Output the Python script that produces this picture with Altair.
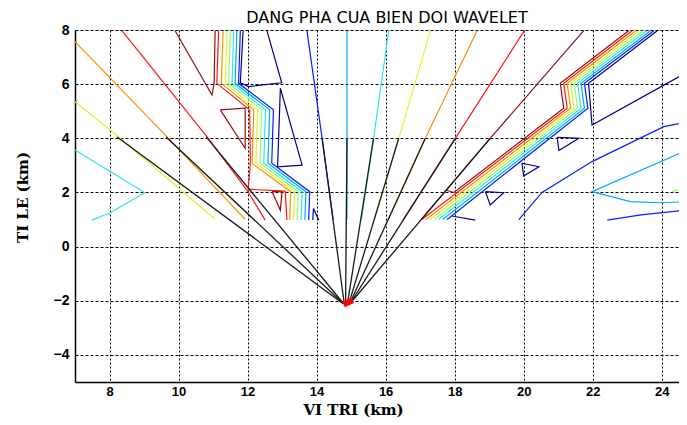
import altair as alt
import pandas as pd

# ---------------- data ----------------
x_ticks = [8, 10, 12, 14, 16, 18, 20, 22, 24]
y_ticks = [-4, -2, 0, 2, 4, 6, 8]

# contour level colours (jet-like, 0 = navy ... 8 = dark red)
level_values = [0, 1, 2, 3, 4, 5, 6, 7, 8]
level_colors = ["#000090", "#0020FF", "#00A8FF", "#30E8E0", "#90FF70",
                "#E0F030", "#FF9000", "#FF1818", "#901010"]

# contour polylines: level, x list, y list
contour_level = [
    3, 5, 6, 7, 8, 8, 8,            # left single lines
    7, 6, 5, 4, 3, 2, 1,            # left staircase band
    0, 0, 0,                        # left navy pieces
    1, 2, 3, 5, 6, 7, 8,            # middle radiating lines
    8, 7, 6, 5, 4, 3, 2, 1, 0,      # right staircase band
    0, 0, 0, 0,                     # right navy pieces
    1, 2, 4, 1,                     # right lines
]
contour_x = [
    [7.0, 9.03, 8.02, 7.49],
    [7.0, 8.26, 11.06],
    [7.0, 9.66, 11.93],
    [8.36, 10.82, 11.98, 12.51],
    [9.90, 10.97, 11.03, 11.06],
    [11.21, 11.93, 11.93, 11.21],
    [12.71, 13.0, 12.95, 12.71],
    [11.16, 11.11, 12.06, 12.08, 12.02, 13.09, 13.14],
    [11.29, 11.24, 12.18, 12.13, 13.25, 13.22],
    [11.40, 11.35, 12.29, 12.24, 13.36, 13.33],
    [11.50, 11.45, 12.41, 12.36, 13.47, 13.44],
    [11.60, 11.55, 12.52, 12.47, 13.58, 13.55],
    [11.69, 11.64, 12.64, 12.59, 13.69, 13.66],
    [11.79, 11.74, 12.75, 12.70, 13.80, 13.77],
    [11.87, 11.79, 12.03, 12.99, 12.56],
    [12.95, 12.87, 13.58, 12.95],
    [13.89, 13.91, 14.06],
    [13.72, 14.16, 14.48],
    [14.88, 14.88],
    [16.09, 15.65, 15.30],
    [17.30, 16.38, 15.67],
    [18.65, 17.15, 16.08],
    [20.02, 18.02, 16.51],
    [21.74, 19.03, 17.03],
    [17.75, 17.98, 21.16, 21.06, 23.04],
    [17.05, 21.26, 21.16, 23.14],
    [17.17, 21.36, 21.26, 23.25],
    [17.29, 21.46, 21.36, 23.35],
    [17.41, 21.56, 21.46, 23.46],
    [17.53, 21.66, 21.56, 23.56],
    [17.65, 21.76, 21.66, 23.67],
    [17.78, 21.86, 21.76, 23.77],
    [23.87, 21.88, 21.98, 24.75],
    [20.97, 21.60, 21.02, 20.97],
    [19.95, 20.44, 20.00, 19.95],
    [18.89, 19.42, 19.03, 18.89],
    [17.92, 18.60],
    [19.86, 20.53, 21.98, 24.06, 24.75],
    [24.75, 21.98, 23.09, 23.96, 24.75],
    [24.75, 24.30],
    [22.42, 23.40, 24.75],
]
contour_y = [
    [3.57, 1.99, 1.25, 0.98],
    [5.35, 4.06, 1.01],
    [7.57, 4.06, 1.01],
    [7.98, 4.06, 2.09, 0.98],
    [7.975, 5.60, 6.03, 7.975],
    [5.05, 5.11, 3.63, 5.05],
    [2.03, 2.03, 1.35, 2.03],
    [7.975, 6.03, 5.05, 3.08, 2.12, 2.05, 0.98],
    [7.975, 6.03, 5.05, 3.08, 2.03, 0.98],
    [7.975, 6.03, 5.05, 3.08, 2.03, 0.98],
    [7.975, 6.03, 5.05, 3.08, 2.03, 0.98],
    [7.975, 6.03, 5.05, 3.08, 2.03, 0.98],
    [7.975, 6.03, 5.05, 3.08, 2.03, 0.98],
    [7.975, 6.03, 5.05, 3.08, 2.03, 0.98],
    [7.975, 6.05, 5.91, 6.05, 7.975],
    [5.85, 2.95, 3.01, 5.85],
    [0.98, 1.41, 0.98],
    [7.975, 4.0, 1.0],
    [7.975, 1.0],
    [7.975, 4.0, 1.0],
    [7.975, 4.0, 1.0],
    [7.975, 4.0, 1.0],
    [7.975, 4.0, 1.0],
    [7.975, 4.0, 1.0],
    [2.08, 2.0, 5.11, 6.03, 7.975],
    [1.0, 5.11, 6.03, 7.975],
    [1.0, 5.11, 6.03, 7.975],
    [1.0, 5.11, 6.03, 7.975],
    [1.0, 5.11, 6.03, 7.975],
    [1.0, 5.11, 6.03, 7.975],
    [1.0, 5.11, 6.03, 7.975],
    [1.0, 5.11, 6.03, 7.975],
    [7.975, 6.03, 4.49, 6.45],
    [4.04, 4.0, 3.55, 4.04],
    [3.08, 2.95, 2.61, 3.08],
    [2.03, 1.99, 1.54, 2.03],
    [1.13, 0.98],
    [1.0, 2.0, 3.14, 4.43, 4.61],
    [3.57, 2.03, 1.66, 1.62, 1.66],
    [2.20, 2.03],
    [0.98, 1.17, 1.35],
]

# black rays from the source to the y = 4 km level
ray_top_x = [8.22, 9.64, 10.80, 14.16, 14.88, 15.65, 16.38, 17.15, 18.02, 19.03]
ray_top_y = [4.05, 4.05, 4.05, 4.0, 4.0, 4.0, 4.0, 4.0, 4.0, 4.0]
ray_end_x = [14.76, 14.77, 14.78, 14.80, 14.84, 14.90, 14.95, 14.99, 15.02, 15.05]
ray_end_y = [-2.10, -2.10, -2.10, -2.10, -2.08, -2.06, -2.04, -2.02, -2.00, -1.98]

# source marker
source_x = [14.78]
source_y = [-2.14]
source_x2 = [15.05]
source_y2 = [-1.98]

# ---------------- tables ----------------
rows = []
for i, (lv, xs, ys) in enumerate(zip(contour_level, contour_x, contour_y)):
    for k, (xv, yv) in enumerate(zip(xs, ys)):
        rows.append({"line": i, "level": lv, "k": k, "x": xv, "y": yv})
df_c = pd.DataFrame(rows)
df_r = pd.DataFrame({"x": ray_top_x, "y": ray_top_y, "x2": ray_end_x, "y2": ray_end_y})
df_s = pd.DataFrame({"x": source_x, "y": source_y, "x2": source_x2, "y2": source_y2})

# ---------------- chart ----------------
xscale = alt.Scale(domain=[7, 24.5], nice=False, zero=False)
yscale = alt.Scale(domain=[-5, 8], nice=False, zero=False)

xaxis = alt.Axis(values=x_ticks, title="VI TRI (km)", grid=True, gridDash=[2, 2],
                 gridColor="black", gridOpacity=1, gridWidth=1, ticks=False,
                 labelPadding=3, labelFont="Liberation Sans", labelFontSize=13,
                 labelFontWeight="bold", labelColor="black",
                 titleFont="DejaVu Serif", titleFontSize=15, titleFontWeight="bold",
                 titleColor="black", titleX=278, titleY=27, titleAlign="center",
                 titleBaseline="middle", domainColor="black", domainWidth=1.5)
yaxis = alt.Axis(values=y_ticks, title="TI LE (km)", grid=True, gridDash=[3, 2],
                 gridColor="black", gridOpacity=1, gridWidth=1, ticks=False,
                 labelPadding=6, labelFont="Liberation Sans", labelFontSize=14,
                 labelFontWeight="bold", labelColor="black",
                 titleFont="DejaVu Serif", titleFontSize=15, titleFontWeight="bold",
                 titleColor="black", titleX=-53, titleY=167, titleAlign="center",
                 titleBaseline="middle", titleAngle=270,
                 domainColor="black", domainWidth=1.5)

contours = alt.Chart(df_c).mark_line(strokeWidth=1.2, clip=True).encode(
    x=alt.X("x:Q", scale=xscale, axis=xaxis),
    y=alt.Y("y:Q", scale=yscale, axis=yaxis),
    color=alt.Color("level:O", scale=alt.Scale(domain=level_values, range=level_colors), legend=None),
    detail="line:N",
    order="k:Q",
)

rays = alt.Chart(df_r).mark_rule(color="#1a1a1a", strokeWidth=1.3, clip=True).encode(
    x=alt.X("x:Q", scale=xscale, axis=xaxis),
    y=alt.Y("y:Q", scale=yscale, axis=yaxis),
    x2="x2:Q",
    y2="y2:Q",
)

source = alt.Chart(df_s).mark_rule(color="#FF0000", strokeWidth=6, strokeCap="butt").encode(
    x=alt.X("x:Q", scale=xscale, axis=xaxis),
    y=alt.Y("y:Q", scale=yscale, axis=yaxis),
    x2="x2:Q",
    y2="y2:Q",
)

chart = alt.layer(contours, rays, source).properties(
    width=604,
    height=352,
    autosize="none",
    padding={"left": 67, "top": 22, "right": 0, "bottom": 35},
    title=alt.TitleParams("DANG PHA CUA BIEN DOI WAVELET", font="DejaVu Sans",
                          fontSize=16, fontWeight="normal", color="black",
                          dx=10, offset=-3),
).configure_view(stroke="#999", strokeWidth=1).configure(background="white")

chart.save("out.html", embed_options={"renderer": "svg", "actions": False})
